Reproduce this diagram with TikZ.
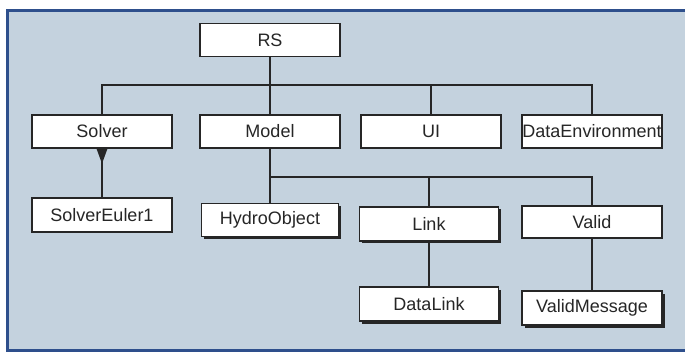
\documentclass[tikz,border=0pt]{standalone}
\usepackage{fontspec}
\setmainfont{Liberation Sans}
\usetikzlibrary{shadows}
\definecolor{bgblue}{HTML}{C4D2DE}
\definecolor{frameblue}{HTML}{2E4F8C}
\definecolor{ink}{HTML}{262626}
\tikzset{
  cls/.style={draw=ink, line width=1.3pt, fill=white, minimum width=140pt, minimum height=33pt, inner sep=0pt,
    font=\fontsize{18}{21}\selectfont, text=ink},
  shad/.style={drop shadow={shadow xshift=2.5pt, shadow yshift=-2.5pt, fill=ink, opacity=1}},
  conn/.style={draw=ink, line width=1.1pt},
}
\begin{document}
\begin{tikzpicture}[x=1pt, y=-1pt]
\useasboundingbox (0,0) rectangle (685,355);
\fill[white] (0,0) rectangle (685,355);
\draw[frameblue, line width=3pt, fill=bgblue] (7.5,10.5) rectangle (700,350);
% nodes
\node[cls] (RS) at (270,40) {RS};
\node[cls] (Solver) at (102,131.5) {Solver};
\node[cls] (Model) at (270,131.5) {Model};
\node[cls] (UI) at (431,131.5) {UI};
\node[cls] (DataEnv) at (592,131.5) {DataEnvironment};
\node[cls, minimum height=34pt] (SolverEuler1) at (102,215) {SolverEuler1};
\node[cls, shad, minimum width=137pt, minimum height=33pt] (HydroObject) at (270,220) {HydroObject};
\node[cls, shad, minimum width=139pt, minimum height=34pt] (Link) at (429,224) {Link};
\node[cls, minimum height=32pt] (Valid) at (592,222) {Valid};
\node[cls, shad, minimum width=139pt, minimum height=34pt] (DataLink) at (429,304) {DataLink};
\node[cls, shad, minimum height=34pt] (ValidMessage) at (592,308) {ValidMessage};
% junctions
\coordinate (j1) at (270,85);
\coordinate (j2) at (270,177);
% connectors
\draw[conn] (RS.south) -- (j1);
\draw[conn] (Solver.north) |- (j1) -| (DataEnv.north);
\draw[conn] (Model.north) -- (j1);
\draw[conn] (UI.north) -- (UI.north |- j1);
\draw[conn] (Model.south) -- (HydroObject.north);
\draw[conn] (j2) -| (Valid.north);
\draw[conn] (Link.north) -- (Link.north |- j2);
\draw[conn] (Link.south) -- (DataLink.north);
\draw[conn] (Valid.south) -- (ValidMessage.north);
\draw[conn] (Solver.south) -- (SolverEuler1.north);
\fill[ink] (Solver.south) ++(-5.5,0) -- ++(11,0) -- ++(-5.5,15) -- cycle;
\end{tikzpicture}
\end{document}
